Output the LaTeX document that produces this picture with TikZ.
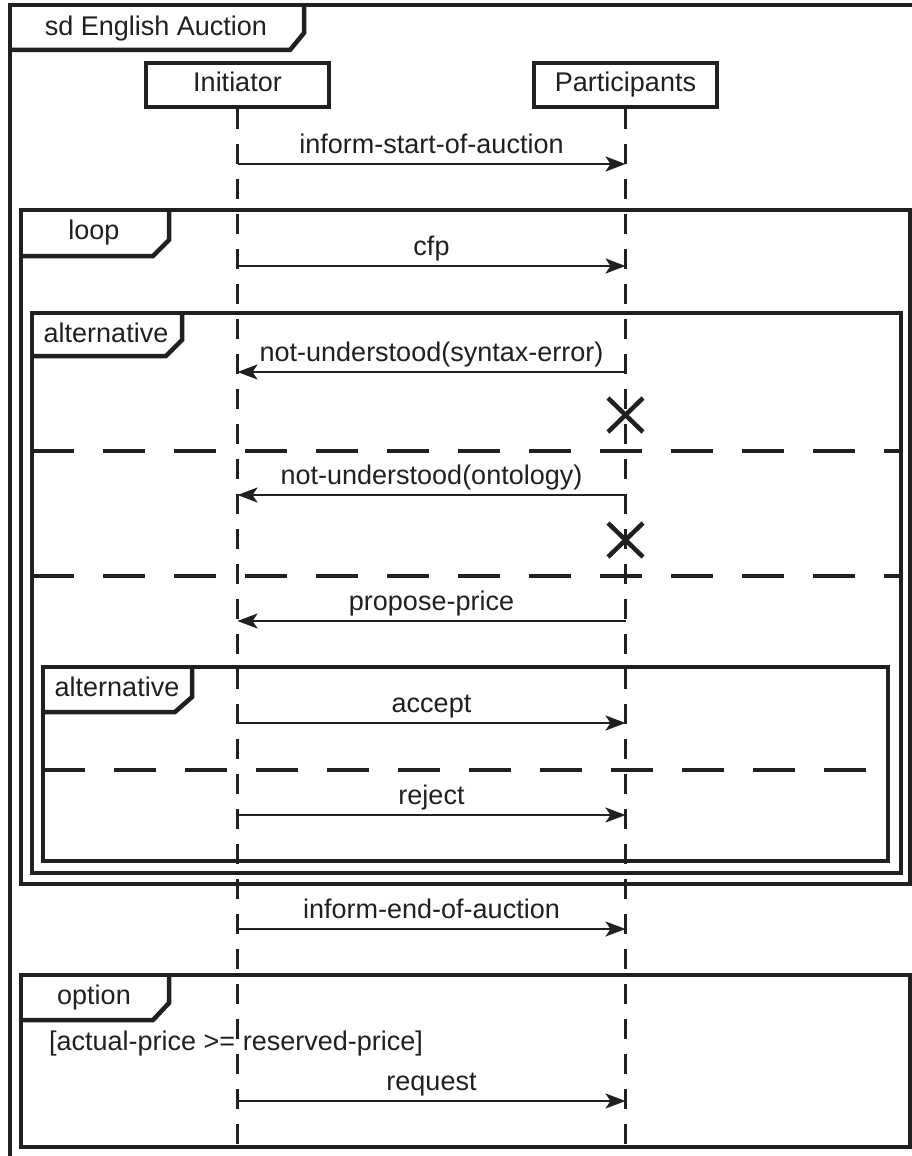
\documentclass[tikz,border=0pt]{standalone}
\usepackage{fontspec}
\setmainfont{Liberation Sans}
\usetikzlibrary{arrows.meta}
\definecolor{ink}{HTML}{231F20}
\begin{document}
\begin{tikzpicture}[x=1pt,y=-1pt,
  every node/.style={font=\fontsize{27}{32}\selectfont, text=ink},
  lifebox/.style={draw=ink, line width=4pt, fill=white, minimum width=183pt, minimum height=44pt, inner sep=0pt, text height=20pt, text depth=6pt},
  lifeline/.style={draw=ink, line width=3pt, dash pattern=on 20pt off 15pt},
  msg/.style={draw=ink, line width=2.5pt, -{Stealth[length=20pt,width=15pt,inset=5pt]}},
  lbl/.style={anchor=base, yshift=11pt, inner sep=0pt},
  sep/.style={draw=ink, line width=3.5pt, dash pattern=on 42pt off 29pt},
  xmark/.style={draw=ink, line width=4.5pt},
  fr/.style={draw=ink, line width=4.5pt, line join=miter},
  tablbl/.style={anchor=base, inner sep=0pt},
]
\useasboundingbox (0,0) rectangle (912,1156);
\clip (0,0) rectangle (912,1156);
\fill[white] (0,0) rectangle (912,1156);

% outer sd frame
\draw[fr] (10,5) rectangle (920,1170);
\draw[fr] (10,50) -- (290,50) -- (304,33) -- (304,5);
\node[tablbl] (sdlbl) at (156,36) {sd English Auction};

% loop frame
\draw[fr] (21,210) rectangle (910,884);
\draw[fr] (21,256) -- (153,256) -- (169,240) -- (169,210);
\node[tablbl] (looplbl) at (94,239) {loop};

% alternative frame (outer)
\draw[fr] (32,313) rectangle (901,873);
\draw[fr] (32,356) -- (166,356) -- (182,340) -- (182,313);
\node[tablbl] (alt1lbl) at (106,342) {alternative};
\draw[sep] (32,451) -- (901,451);
\draw[sep] (32,576) -- (901,576);

% alternative frame (inner)
\draw[fr] (43,667) rectangle (888,861);
\draw[fr] (43,712) -- (175,712) -- (192,697) -- (192,667);
\node[tablbl] (alt2lbl) at (117,696) {alternative};
\draw[sep] (43,770) -- (888,770);

% option frame
\draw[fr] (21,975) rectangle (910,1147);
\draw[fr] (21,1020) -- (153,1020) -- (169,1003) -- (169,975);
\node[tablbl] (optlbl) at (94,1004) {option};
\node[anchor=base west, inner sep=0pt] (guard) at (49,1050) {[actual-price >= reserved-price]};

% lifelines
\node[lifebox] (ini) at (237.5,85) {Initiator};
\node[lifebox] (par) at (625.5,85) {Participants};
\coordinate (iniend) at (237.5,1170);
\coordinate (parend) at (625.5,1170);
\draw[lifeline] (ini.south) -- (iniend);
\draw[lifeline] (par.south) -- (parend);

% messages
\coordinate (i1) at (237.5,164); \coordinate (p1) at (625.5,164);
\draw[msg] (i1) -- node[lbl]{inform-start-of-auction} (p1);
\coordinate (i2) at (237.5,266); \coordinate (p2) at (625.5,266);
\draw[msg] (i2) -- node[lbl]{cfp} (p2);
\coordinate (i3) at (237.5,372); \coordinate (p3) at (625.5,372);
\draw[msg] (p3) -- node[lbl]{not-understood(syntax-error)} (i3);
\coordinate (i4) at (237.5,495); \coordinate (p4) at (625.5,495);
\draw[msg] (p4) -- node[lbl]{not-understood(ontology)} (i4);
\coordinate (i5) at (237.5,621); \coordinate (p5) at (625.5,621);
\draw[msg] (p5) -- node[lbl]{propose-price} (i5);
\coordinate (i6) at (237.5,723); \coordinate (p6) at (625.5,723);
\draw[msg] (i6) -- node[lbl]{accept} (p6);
\coordinate (i7) at (237.5,815); \coordinate (p7) at (625.5,815);
\draw[msg] (i7) -- node[lbl]{reject} (p7);
\coordinate (i8) at (237.5,929); \coordinate (p8) at (625.5,929);
\draw[msg] (i8) -- node[lbl]{inform-end-of-auction} (p8);
\coordinate (i9) at (237.5,1101); \coordinate (p9) at (625.5,1101);
\draw[msg] (i9) -- node[lbl]{request} (p9);

% destruction marks
\draw[xmark] (608,398) -- (643,432) (608,432) -- (643,398);
\draw[xmark] (608,523) -- (643,557) (608,557) -- (643,523);
\end{tikzpicture}
\end{document}
